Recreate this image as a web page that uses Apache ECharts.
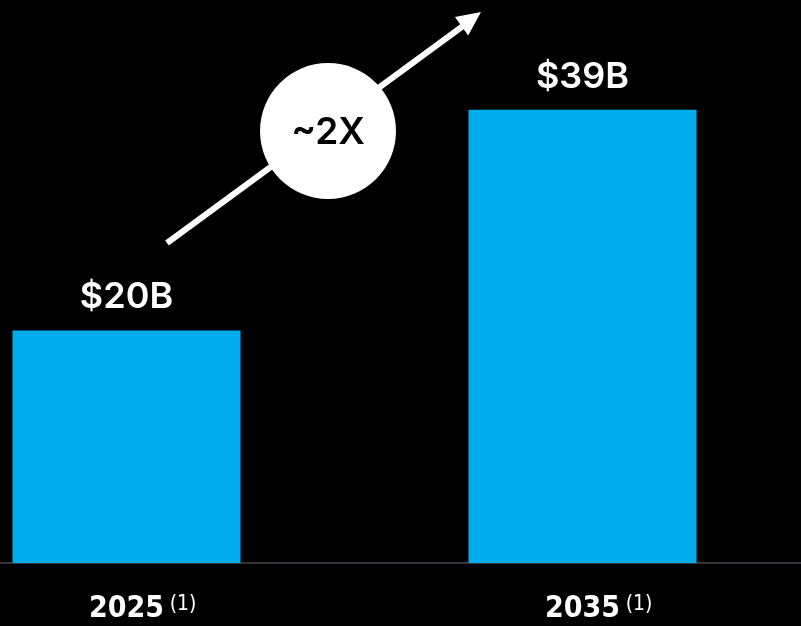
<!DOCTYPE html>
<html>
<head>
<meta charset="utf-8">
<script src="https://cdn.jsdelivr.net/npm/echarts@6/dist/echarts.min.js"></script>
<style>
html,body{margin:0;padding:0;background:#000;}
#chart{width:801px;height:626px;}
</style>
</head>
<body>
<div id="chart"></div>
<script>
const categories = ['2025', '2035'];
const footnotes = ['(1)', '(1)'];
const values = [20, 39];
const valueLabels = ['$20B', '$39B'];
const growthLabel = '~2X';

const chart = echarts.init(document.getElementById('chart'), null, {renderer: 'canvas'});

const condensed = "'Liberation Sans Narrow', 'DejaVu Sans Condensed', 'Roboto', sans-serif";

const barData = values.map(function (v, i) { return [i, v]; });

const option = {
  backgroundColor: '#000000',
  animation: false,
  grid: { left: 0, right: 0, bottom: 63, top: 40, containLabel: false },
  xAxis: {
    type: 'value',
    min: -0.2774,
    max: 1.4792,
    splitLine: { show: false },
    axisLine: { show: true, onZero: false, lineStyle: { color: '#333338', width: 2 } },
    axisTick: { show: false },
    axisLabel: {
      customValues: [0, 1],
      margin: 31,
      formatter: function (v) {
        var i = Math.round(v);
        return '{sp| }{a|' + categories[i] + '}{s|' + footnotes[i] + '}';
      },
      rich: {
        sp: { width: 31 },
        a: { color: '#ffffff', fontSize: 30, fontWeight: 'bold', fontFamily: condensed, lineHeight: 30 },
        s: { color: '#ffffff', fontSize: 21, fontFamily: condensed, verticalAlign: 'top', lineHeight: 30, width: 24, padding: [0, 0, 0, 7] }
      }
    }
  },
  yAxis: {
    type: 'value', min: 0, max: 45, show: false, splitLine: { show: false }
  },
  series: [{
    type: 'bar',
    data: barData,
    barWidth: 228,
    itemStyle: { color: '#00ADEC' },
    label: {
      show: true,
      position: 'top',
      distance: 16,
      formatter: function (p) { return valueLabels[p.dataIndex]; },
      color: '#ffffff',
      fontSize: 36,
      fontWeight: 600,
      fontFamily: "Inter, 'Noto Sans', sans-serif",
      lineHeight: 34
    }
  }],
  graphic: [
    {
      type: 'line',
      shape: { x1: 167, y1: 243, x2: 463, y2: 26 },
      style: { stroke: '#ffffff', lineWidth: 6 },
      z: 10
    },
    {
      type: 'polygon',
      shape: { points: [[481, 12], [468.2, 35.5], [455, 17]] },
      style: { fill: '#ffffff' },
      z: 10
    },
    {
      type: 'circle',
      shape: { cx: 328, cy: 131, r: 68 },
      style: { fill: '#ffffff' },
      z: 11
    },
    {
      type: 'text',
      x: 328, y: 133,
      style: {
        text: growthLabel, fill: '#000000', fontSize: 37, fontWeight: 600,
        fontFamily: "Inter, 'Noto Sans', sans-serif", align: 'center', verticalAlign: 'middle'
      },
      z: 12
    }
  ]
};
chart.setOption(option);
</script>
</body>
</html>
